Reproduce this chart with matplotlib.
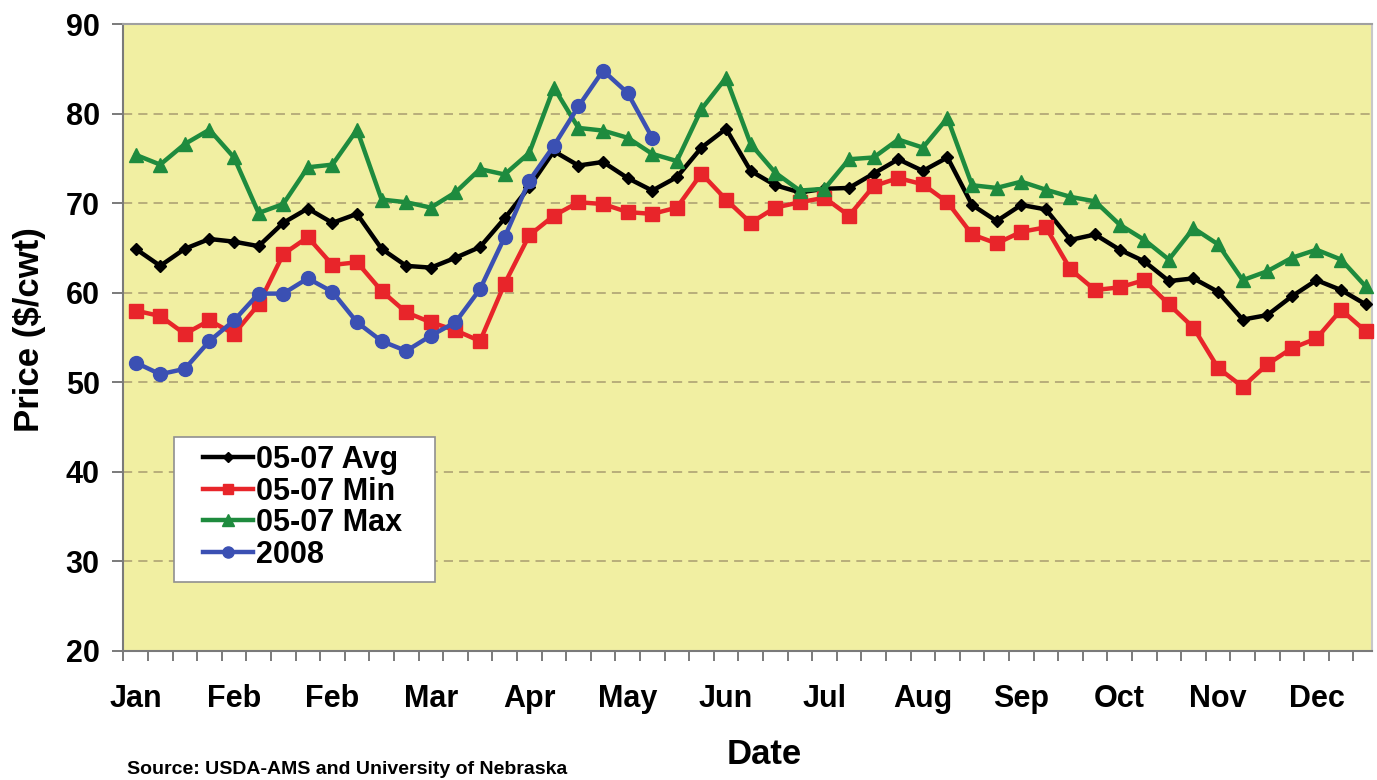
import matplotlib
matplotlib.use("Agg")
import matplotlib.pyplot as plt
from matplotlib.ticker import FixedLocator
from matplotlib.patches import Rectangle

plt.rcParams['font.family'] = ['Liberation Sans', 'DejaVu Sans']
plt.rcParams['font.weight'] = 'bold'

# ---- data (weekly, $/cwt) ----
month_labels = ["Jan", "Feb", "Feb", "Mar", "Apr", "May", "Jun",
                "Jul", "Aug", "Sep", "Oct", "Nov", "Dec"]

avg_0507 = [64.9, 63.0, 64.9, 66.0, 65.7, 65.2, 67.8, 69.4, 67.8, 68.8,
            64.9, 63.0, 62.8, 63.9, 65.1, 68.3, 71.8, 75.8, 74.2, 74.6,
            72.8, 71.4, 72.9, 76.2, 78.3, 73.6, 72.0, 71.2, 71.6, 71.7,
            73.3, 74.9, 73.6, 75.1, 69.8, 68.0, 69.8, 69.3, 65.9, 66.5,
            64.8, 63.5, 61.3, 61.6, 60.1, 57.0, 57.5, 59.6, 61.4, 60.3, 58.7]

min_0507 = [58.0, 57.4, 55.4, 56.9, 55.4, 58.7, 64.3, 66.2, 63.1, 63.4,
            60.2, 57.8, 56.7, 55.8, 54.6, 61.0, 66.4, 68.6, 70.1, 69.9,
            69.0, 68.8, 69.5, 73.3, 70.4, 67.8, 69.5, 70.1, 70.6, 68.6,
            71.9, 72.8, 72.1, 70.1, 66.5, 65.5, 66.8, 67.3, 62.6, 60.3,
            60.6, 61.4, 58.7, 56.1, 51.6, 49.5, 52.0, 53.8, 54.9, 58.1, 55.7]

max_0507 = [75.4, 74.3, 76.6, 78.2, 75.1, 68.9, 69.9, 74.0, 74.3, 78.2,
            70.4, 70.1, 69.5, 71.2, 73.8, 73.2, 75.6, 82.9, 78.4, 78.1,
            77.3, 75.5, 74.7, 80.5, 84.0, 76.6, 73.4, 71.4, 71.6, 74.9,
            75.1, 77.1, 76.2, 79.5, 72.0, 71.7, 72.4, 71.5, 70.7, 70.2,
            67.6, 65.9, 63.7, 67.2, 65.4, 61.4, 62.4, 63.9, 64.8, 63.7, 60.7]

y2008 = [52.2, 50.9, 51.5, 54.6, 56.9, 59.9, 59.9, 61.6, 60.1, 56.7,
         54.6, 53.5, 55.2, 56.7, 60.4, 66.2, 72.5, 76.4, 80.8, 84.8,
         82.3, 77.3]

series_names = ["05-07 Avg", "05-07 Min", "05-07 Max", "2008"]

# ---- figure ----
W, H = 1377, 780
fig = plt.figure(figsize=(W / 100, H / 100), dpi=100)
L, R, T, B = 123.3, 1372, 24, 651
ax = fig.add_axes([L / W, 1 - B / H, (R - L) / W, (B - T) / H])
ax.set_facecolor('#F1EFA2')

n = len(avg_0507)
x = list(range(n))

lw = 3.2
ax.plot(x, avg_0507, color='black', lw=lw, marker='D', ms=6.5,
        label=series_names[0], zorder=3, clip_on=False)
ax.plot(x, min_0507, color='#E8252A', lw=lw, marker='s', ms=9.5,
        label=series_names[1], zorder=3, clip_on=False)
ax.plot(x, max_0507, color='#1E8B3E', lw=lw, marker='^', ms=10.5,
        label=series_names[2], zorder=3, clip_on=False)
ax.plot(list(range(len(y2008))), y2008, color='#3B50B3', lw=lw, marker='o',
        ms=10, label=series_names[3], zorder=4, clip_on=False)

ax.set_ylim(20, 90)
ax.set_xlim(-0.5, 50.5 - 6 / 24.6)
ax.set_yticks(range(20, 91, 10))
ax.set_xticks(range(0, n, 4)[:len(month_labels)])
ax.set_xticklabels(month_labels)
ax.xaxis.set_minor_locator(FixedLocator([i - 0.5 for i in range(n + 1)]))

ax.tick_params(axis='x', which='major', length=0, pad=24, labelsize=22)
ax.tick_params(axis='x', which='minor', length=7, width=1.3, color='#707070',
               direction='out')
ax.tick_params(axis='y', which='major', length=8, width=1.3, color='#707070',
               direction='out', pad=9, labelsize=22)
for lab in ax.get_xticklabels() + ax.get_yticklabels():
    lab.set_fontweight('bold')

for yv in range(30, 90, 10):
    ax.axhline(yv, color='#A89C70', lw=1.1, ls=(0, (6, 4)), zorder=1)

for side in ['left', 'bottom', 'top', 'right']:
    ax.spines[side].set_color('#7A7A7A')
    ax.spines[side].set_linewidth(1.5)
ax.spines['top'].set_color('#A0A0A0')
ax.spines['right'].set_color('#C8C8C8')

# legend frame drawn separately to match the reference padding
frame = Rectangle((174 / W, 1 - 582 / H), (435 - 174) / W, (582 - 437) / H,
                  transform=fig.transFigure, facecolor='white',
                  edgecolor='#909090', lw=1.2, zorder=5)
ax.add_artist(frame)
frame.set_clip_on(False)

leg = ax.legend(loc='upper left', bbox_to_anchor=(203 / W, 1 - 445 / H),
                bbox_transform=fig.transFigure, frameon=False,
                prop={'size': 22, 'weight': 'bold'}, handlelength=1.65,
                handletextpad=0.08, labelspacing=0.05, borderpad=0,
                borderaxespad=0, markerscale=0.8)
leg.set_zorder(6)

fig.text(30 / W, 1 - 330 / H, "Price ($/cwt)", rotation=90, ha='center',
         va='center', fontsize=25, fontweight='bold')
fig.text(764 / W, 1 - 755 / H, "Date", ha='center', va='center',
         fontsize=25, fontweight='bold')
fig.text(127 / W, 1 - 770 / H, "Source: USDA-AMS and University of Nebraska",
         ha='left', va='center', fontsize=14, fontweight='bold')

fig.savefig('out.png', dpi=100)
